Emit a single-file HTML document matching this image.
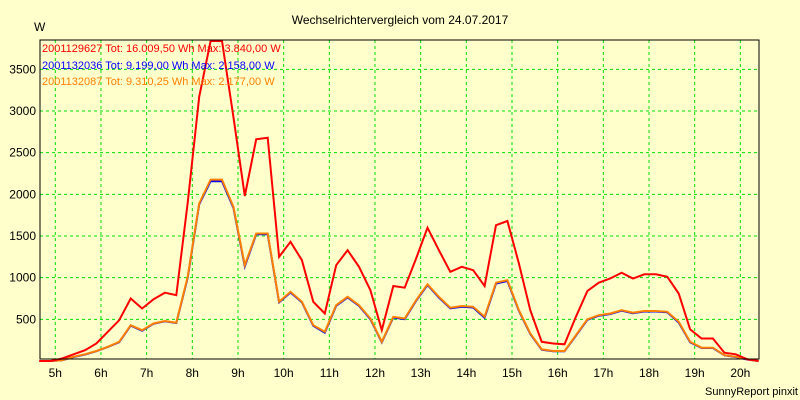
<!DOCTYPE html>
<html><head><meta charset="utf-8"><style>
html,body{margin:0;padding:0;background:#ffffcc;}
svg{display:block;font-family:"Liberation Sans",sans-serif;}
</style></head><body>
<svg id="chart" width="800" height="400" viewBox="0 0 800 400" xmlns="http://www.w3.org/2000/svg">
<rect x="0" y="0" width="800" height="400" fill="#ffffcc"/>
<text x="400" y="24" text-anchor="middle" font-size="12" fill="#000">Wechselrichtervergleich vom 24.07.2017</text>
<text x="34" y="31" font-size="12" fill="#000">W</text>
<text x="798" y="395" text-anchor="end" font-size="11" fill="#000">SunnyReport pinxit</text>
<g id="grid"></g>
<g id="axes"></g>
<g id="series"></g>
<rect x="40" y="40" width="719" height="319" fill="none" stroke="#000" stroke-width="1"/>
<g font-size="11">
<text x="42" y="52" fill="#ff0000">2001129627 Tot: 16.009,50 Wh Max: 3.840,00 W</text>
<text x="42" y="69" fill="#0000ff">2001132036 Tot: 9.199,00 Wh Max: 2.158,00 W</text>
<text x="42" y="85" fill="#ff8000">2001132087 Tot: 9.310,25 Wh Max: 2.177,00 W</text>
</g>
</svg>
<script>
const startHour = 4.65;
const stepHours = 0.25;
const redValues = [0,0,30,80,130,210,350,490,750,630,740,820,790,1900,3170,3840,3840,2930,1980,2660,2680,1250,1430,1210,710,570,1150,1330,1130,850,370,900,880,1230,1600,1330,1070,1130,1090,900,1630,1680,1170,610,230,210,200,530,840,940,990,1060,990,1040,1040,1010,810,380,270,270,100,80,20,0];
const orangeValues = [0,0,10,50,80,120,170,230,430,370,450,480,460,1010,1890,2177,2177,1850,1150,1530,1530,710,830,710,430,350,670,770,670,510,230,530,510,730,920,770,640,660,650,530,940,970,610,330,140,120,120,310,500,550,570,610,580,600,600,590,470,230,160,160,70,50,20,0];
const blueValues = [0,0,10,48,78,118,168,226,425,364,446,476,456,1000,1880,2158,2158,1840,1135,1520,1520,705,822,705,422,340,662,762,662,502,224,522,502,722,912,762,632,652,642,520,930,960,602,324,136,116,116,304,494,544,564,604,574,594,594,584,462,224,156,156,68,48,18,0];
const yTicks = [500,1000,1500,2000,2500,3000,3500];
const xTickHours = [5,6,7,8,9,10,11,12,13,14,15,16,17,18,19,20];

const NS = "http://www.w3.org/2000/svg";
function xScale(h){ return 55.3 + (h - 5) * 45.67; }
function yScale(v){ return 361 - v / 12; }
function mk(tag, attrs, parent){
  const e = document.createElementNS(NS, tag);
  for (const k in attrs) e.setAttribute(k, attrs[k]);
  parent.appendChild(e);
  return e;
}
const grid = document.getElementById('grid');
const axes = document.getElementById('axes');
const series = document.getElementById('series');

yTicks.forEach(v => {
  const y = yScale(v);
  const l = mk('line', {x1:40, x2:759, y1:y, y2:y, stroke:'#00e000', 'stroke-dasharray':'3,3', 'stroke-width':1}, grid);
  
  
  const t = mk('text', {x:36, y:y + 4, 'text-anchor':'end', 'font-size':12, fill:'#000'}, axes);
  t.textContent = v;
  
  
});
xTickHours.forEach(h => {
  const x = xScale(h);
  const l = mk('line', {x1:x, x2:x, y1:40, y2:359, stroke:'#00e000', 'stroke-dasharray':'3,3', 'stroke-width':1}, grid);
  
  
  const t = mk('text', {x:x, y:377, 'text-anchor':'middle', 'font-size':12, fill:'#000'}, axes);
  t.textContent = h + 'h';
  
  
});

function drawLine(values, color, name){
  const pts = values.map((v, i) => xScale(startHour + i * stepHours).toFixed(1) + ',' + yScale(v).toFixed(1)).join(' ');
  const p = mk('polyline', {points:pts, fill:'none', stroke:color, 'stroke-width':2, 'stroke-linejoin':'miter'}, series);
  
  
}
drawLine(blueValues, '#0000ff', 'series-line-2001132036');
drawLine(orangeValues, '#ff8000', 'series-line-2001132087');
drawLine(redValues, '#ff0000', 'series-line-2001129627');
</script>
</body></html>
